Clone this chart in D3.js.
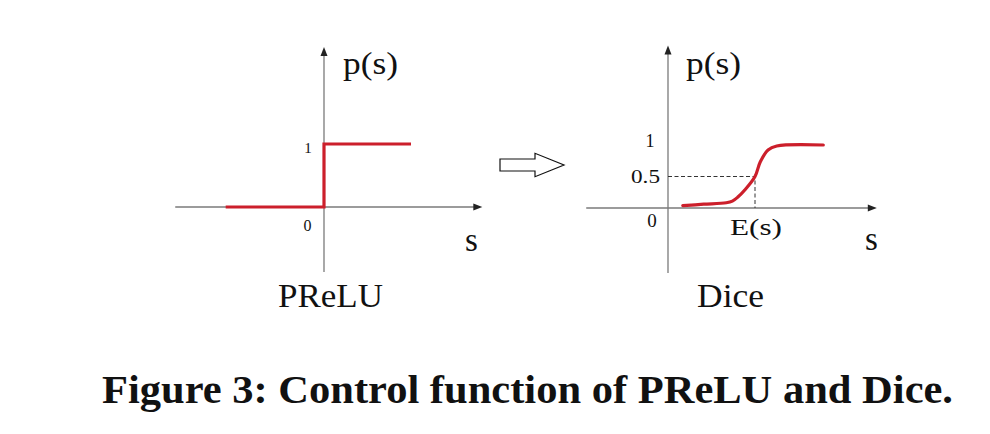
<!DOCTYPE html>
<html><head><meta charset="utf-8">
<script src="https://cdn.jsdelivr.net/npm/d3@7"></script>
<style>html,body{margin:0;padding:0;background:#fff;}svg{display:block;}</style>
</head><body>
<script>
// ---- data ----
const preluS = [-1.13, 0, 0, 1.0];
const preluP = [0, 0, 1, 1];
const diceS = [0.17, 0.41, 0.67, 0.74, 0.8, 0.885, 1.0, 1.06, 1.15, 1.25, 1.785];
const diceP = [0.037, 0.06, 0.084, 0.11, 0.17, 0.29, 0.5, 0.73, 0.92, 0.984, 1.0];
const leftTicks = ["1", "0"];
const rightTicks = ["1", "0.5", "0"];
const eValue = 1.0;       // E(s) position on the s axis
const eLevel = 0.5;       // p(E(s))
const panelNames = ["PReLU", "Dice"];
const caption = "Figure 3: Control function of PReLU and Dice.";

const W = 990, H = 434;
const svg = d3.select("body").append("svg").attr("width", W).attr("height", H);
const font = "'Liberation Serif', 'Times New Roman', serif";
const red = "#cc1f2b", axisCol = "#7a7a7a";

// scales
const xL = d3.scaleLinear().domain([0, 1]).range([324, 411]);
const yL = d3.scaleLinear().domain([0, 1]).range([207, 144]);
const xR = d3.scaleLinear().domain([0, 1]).range([668, 755]);
const yR = d3.scaleLinear().domain([0, 1]).range([208, 145]);

function axes(x, y, sMin, sMax, pMin, pMax) {
  const g = svg.append("g");
  const x0 = x(0), y0 = y(0);
  const xe = x(sMax), yt = y(pMax);
  g.append("line").attr("x1", x(sMin)).attr("x2", xe - 6).attr("y1", y0).attr("y2", y0)
    .attr("stroke", axisCol).attr("stroke-width", 1.3);
  g.append("path").attr("d", `M${xe},${y0} L${xe-9},${y0-3.5} L${xe-9},${y0+3.5} Z`).attr("fill", "#222");
  g.append("line").attr("x1", x0).attr("x2", x0).attr("y1", y(pMin)).attr("y2", yt + 6)
    .attr("stroke", axisCol).attr("stroke-width", 1.3);
  g.append("path").attr("d", `M${x0},${yt} L${x0-3.5},${yt+9} L${x0+3.5},${yt+9} Z`).attr("fill", "#222");
}

// left panel axes
axes(xL, yL, -1.71, 1.82, -1.03, 2.54);
// right panel axes
axes(xR, yR, -0.94, 2.4, -1.03, 2.58);

// dashed guide lines for Dice
svg.append("path")
  .attr("d", `M${xR(0)},${yR(eLevel)} H${xR(eValue)} V${yR(0)}`)
  .attr("fill", "none").attr("stroke", "#333").attr("stroke-width", 1).attr("stroke-dasharray", "4,2.5");

// PReLU step
const stepLine = d3.line().x(d => xL(d[0])).y(d => yL(d[1])).curve(d3.curveLinear);
svg.append("path").datum(d3.zip(preluS, preluP)).attr("d", stepLine)
  .attr("fill", "none").attr("stroke", red).attr("stroke-width", 3.2).attr("stroke-linejoin", "miter");

// Dice curve
const diceLine = d3.line().x(d => xR(d[0])).y(d => yR(d[1])).curve(d3.curveCatmullRom.alpha(0.5));
svg.append("path").datum(d3.zip(diceS, diceP)).attr("d", diceLine)
  .attr("fill", "none").attr("stroke", red).attr("stroke-width", 3.2).attr("stroke-linecap", "round");

function txt(x, y, s, size, anchor, len) {
  const t = svg.append("text").attr("x", x).attr("y", y).text(s)
    .attr("font-family", font).attr("font-size", size).attr("fill", "#111")
    .attr("text-anchor", anchor || "start");
  if (len) t.attr("textLength", len).attr("lengthAdjust", "spacingAndGlyphs");
  return t;
}

// left labels
txt(xL(0) - 16, yL(1) + 9, leftTicks[0], 15, "middle");
txt(xL(0) - 16.5, yL(0) + 24, leftTicks[1], 16, "middle");
txt(343, 74, "p(s)", 32, "start", 55);
txt(465, 251, "s", 33, "start");
txt(278, 306.5, panelNames[0], 33, "start", 105);

// right labels
txt(xR(0) - 18, yR(1) + 2, rightTicks[0], 18, "middle");
txt(xR(0) - 8, yR(eLevel) + 6.5, rightTicks[1], 18, "end", 29);
txt(xR(0) - 16, yR(0) + 18.5, rightTicks[2], 19, "middle");
txt(xR(eValue) + 1, 235, "E(s)", 23, "middle", 52);
txt(686, 74, "p(s)", 32, "start", 55);
txt(865, 250, "s", 33, "start");
txt(697, 306.5, panelNames[1], 33, "start", 67);

// transform arrow
svg.append("path")
  .attr("d", "M500,159 H535 V153.3 L564,165 L535,176.7 V171 H500 Z")
  .attr("fill", "#fff").attr("stroke", "#111").attr("stroke-width", 1.2).attr("stroke-linejoin", "miter");

// caption
svg.append("text").attr("x", 102).attr("y", 403).text(caption)
  .attr("font-family", font).attr("font-weight", "bold").attr("font-size", 40).attr("fill", "#111")
  .attr("textLength", 851).attr("lengthAdjust", "spacingAndGlyphs");
</script>
</body></html>
